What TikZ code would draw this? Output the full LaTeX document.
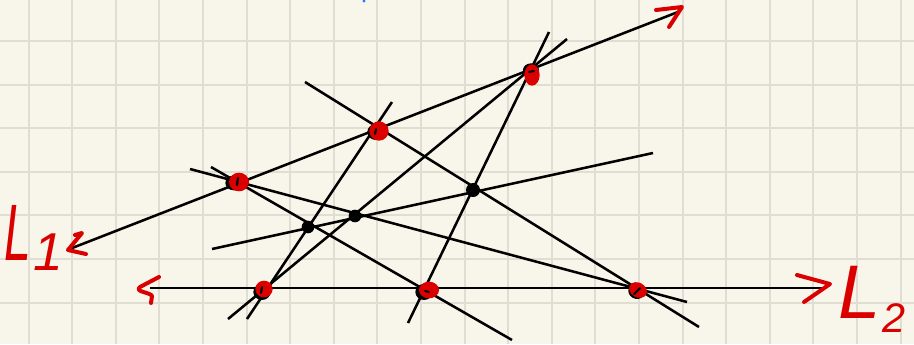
\documentclass[tikz,border=0pt]{standalone}
\usepackage{fontspec}
\setmainfont{Liberation Sans}
\usetikzlibrary{shapes.geometric}
\definecolor{paper}{RGB}{248,246,234}
\definecolor{gridc}{RGB}{224,222,210}
\definecolor{ink}{RGB}{218,0,0}
\definecolor{speck}{RGB}{40,120,255}
\begin{document}
\begin{tikzpicture}[x=0.75pt,y=-0.75pt,
  gridline/.style={draw=gridc,line width=1.5pt},
  geo/.style={draw=black,line width=1.9pt},
  pen/.style={draw=ink,line width=3pt,line cap=round,line join=round},
  reddot/.style={ellipse,fill=ink,inner sep=0pt},
  blackdot/.style={circle,fill=black,inner sep=0pt,minimum size=9.5pt},
  smudge/.style={ellipse,fill=black,inner sep=0pt},
  pip/.style={draw=black,line width=1.6pt,line cap=round},
  lbl/.style={text=ink,font=\itshape,inner sep=0pt}]
% paper and grid
\fill[paper] (0,0) rectangle (914,344);
\useasboundingbox (0,0) rectangle (914,344);
\foreach \i in {0,...,20} \draw[gridline] (28.5+43.6*\i,0) -- (28.5+43.6*\i,344);
\foreach \j in {0,...,6} \draw[gridline] (0,41+43.6*\j) -- (914,41+43.6*\j);
\fill[speck] (364,1) circle (1.6);
% end points of lines
\coordinate (l1s) at (67,250);  \coordinate (l1e) at (678,12);
\coordinate (l2s) at (150,288); \coordinate (l2e) at (822,288);
\coordinate (ae1) at (211,167); \coordinate (ae2) at (512,340);
\coordinate (af1) at (190,169); \coordinate (af2) at (687,302);
\coordinate (bf1) at (305,82);  \coordinate (bf2) at (699,327);
\coordinate (bd1) at (392,102); \coordinate (bd2) at (247,319);
\coordinate (cd1) at (567,39);  \coordinate (cd2) at (228,319);
\coordinate (ce1) at (549,32);  \coordinate (ce2) at (408,323);
\coordinate (pp1) at (212,249); \coordinate (pp2) at (653,153);
% lines
\draw[geo] (l1s) -- (l1e);
\draw[geo] (l2s) -- (l2e);
\draw[geo] (ae1) -- (ae2);
\draw[geo] (af1) -- (af2);
\draw[geo] (bf1) -- (bf2);
\draw[geo] (bd1) -- (bd2);
\draw[geo] (cd1) -- (cd2);
\draw[geo] (ce1) -- (ce2);
\draw[geo] (pp1) -- (pp2);
% hand-drawn arrow heads
\coordinate (h1a) at (656,10); \coordinate (h1b) at (682,7); \coordinate (h1c) at (669,27);
\draw[pen] (h1a) -- (h1b) -- (h1c);
\coordinate (h2a) at (75,235); \coordinate (h2b) at (82,233); \coordinate (h2c) at (68,250); \coordinate (h2d) at (86,254);
\draw[pen] (h2a) -- (h2b) -- (h2c) -- (h2d);
\coordinate (h3a) at (159,277); \coordinate (h3b) at (140,287); \coordinate (h3c) at (152,296); \coordinate (h3d) at (151,303);
\draw[pen] (h3a) -- (h3b) .. controls (134,292) and (150,292) .. (h3c) -- (h3d);
\coordinate (h4a) at (797,275); \coordinate (h4b) at (830,284); \coordinate (h4c) at (804,302);
\draw[pen] (h4a) -- (h4b) -- (h4c);
% red points on L1
\node[smudge,minimum width=13pt,minimum height=11pt] (As) at (234,183) {};
\node[reddot,minimum width=15pt,minimum height=14pt] (A) at (239,182) {};
\draw[pip] (238,178) -- (237,185);
\node[smudge,minimum width=13pt,minimum height=12pt] (Bs) at (376,132) {};
\node[reddot,minimum width=14.5pt,minimum height=14.5pt] (B) at (379,131) {};
\draw[pip] (376,129) -- (375,134);
\node[smudge,minimum width=12pt,minimum height=10pt] (Cs) at (531,70) {};
\node[reddot,minimum width=11.5pt,minimum height=16pt] (C) at (532,75) {};
\draw[pip] (529,72) -- (534,71);
% red points on L2
\node[smudge,minimum width=13pt,minimum height=12pt] (Ds) at (262,292) {};
\node[reddot,minimum width=13pt,minimum height=12.5pt] (D) at (264,289) {};
\draw[pip] (262,287) -- (261,293);
\node[smudge,minimum width=13pt,minimum height=12pt] (Es) at (424,292) {};
\node[reddot,minimum width=15pt,minimum height=12.5pt] (E) at (429,290) {};
\draw[pip] (425,291) -- (429,292);
\node[smudge,minimum width=12pt,minimum height=10pt,rotate=-30] (Fs) at (636,292) {};
\node[reddot,minimum width=14pt,minimum height=11pt,rotate=-30] (F) at (638,290) {};
\draw[pip] (634,294) -- (640,288);
% black intersection points
\node[blackdot] (P) at (308,227) {};
\node[blackdot] (Q) at (355,216) {};
\node[blackdot,minimum size=10.5pt] (R) at (473,190) {};
% labels
\node[lbl,anchor=base west] (L1a) at (4,260) {\fontsize{60}{60}\selectfont\scalebox{0.6}[1]{L}};
\node[lbl,anchor=base west] (L1b) at (33,270) {\fontsize{40}{40}\selectfont 1};
\node[lbl,anchor=base west] (L2a) at (838,318) {\fontsize{57}{57}\selectfont L};
\node[lbl,anchor=base west] (L2b) at (882,332) {\fontsize{31}{31}\selectfont 2};
\end{tikzpicture}
\end{document}
